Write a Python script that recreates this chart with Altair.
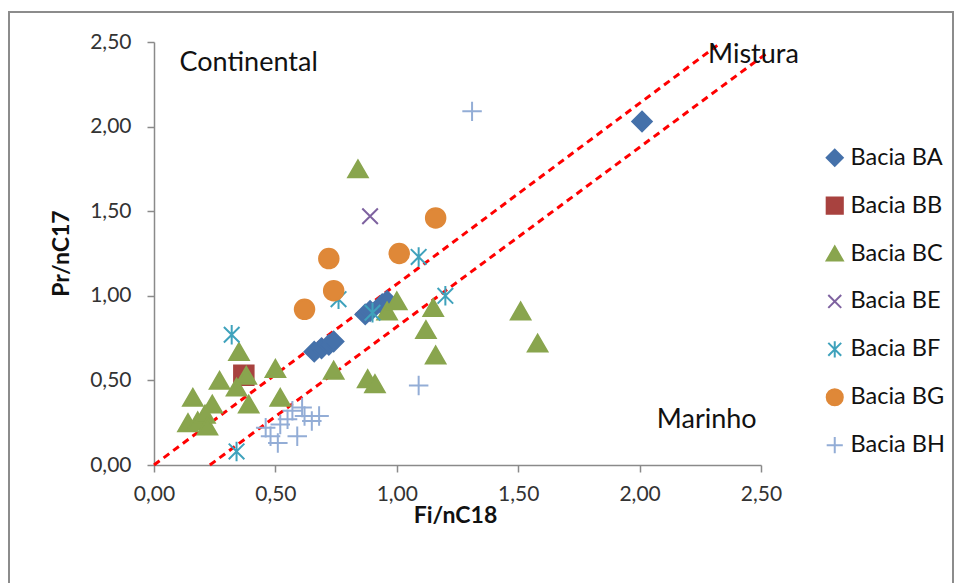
import altair as alt
import pandas as pd

# ---------------- data ----------------
series_names = ["Bacia BA", "Bacia BB", "Bacia BC", "Bacia BE", "Bacia BF", "Bacia BG", "Bacia BH"]
series_colors = ["#4571AA", "#A8423F", "#89A54E", "#7E62A0", "#3FA2BC", "#DF8838", "#93ADD6"]

ba_x = [0.66, 0.69, 0.72, 0.74, 0.87, 0.89, 0.94, 0.96, 2.01]
ba_y = [0.67, 0.69, 0.71, 0.73, 0.89, 0.91, 0.95, 0.97, 2.03]

bb_x = [0.37]
bb_y = [0.53]

bc_x = [0.14, 0.16, 0.18, 0.21, 0.22, 0.24, 0.27, 0.34, 0.35, 0.38, 0.39, 0.50, 0.52,
        0.74, 0.84, 0.88, 0.91, 0.96, 1.00, 1.12, 1.15, 1.16, 1.51, 1.58]
bc_y = [0.25, 0.40, 0.26, 0.30, 0.23, 0.36, 0.50, 0.46, 0.67, 0.53, 0.36, 0.57, 0.40,
        0.56, 1.75, 0.51, 0.48, 0.91, 0.97, 0.80, 0.93, 0.65, 0.91, 0.72]

be_x = [0.89]
be_y = [1.47]

bf_x = [0.32, 0.34, 0.76, 0.90, 1.09, 1.20]
bf_y = [0.77, 0.08, 0.98, 0.90, 1.23, 1.00]

bg_x = [0.62, 0.72, 0.74, 1.01, 1.16]
bg_y = [0.92, 1.22, 1.03, 1.25, 1.46]

bh_x = [0.46, 0.48, 0.51, 0.52, 0.55, 0.57, 0.59, 0.61, 0.62, 0.65, 0.68, 1.09, 1.31]
bh_y = [0.22, 0.17, 0.13, 0.24, 0.27, 0.32, 0.17, 0.34, 0.29, 0.26, 0.29, 0.47, 2.09]

# boundary lines (Continental / Mistura / Marinho)
line_names = ["upper", "upper", "lower", "lower"]
line_x = [0.0, 2.32, 0.23, 2.53]
line_y = [0.0, 2.48, 0.0, 2.44]

# region labels
label_text = ["Continental", "Mistura", "Marinho"]
label_x = [0.105, 2.282, 2.071]
label_y = [2.376, 2.423, 0.266]

tick_values = [0.0, 0.5, 1.0, 1.5, 2.0, 2.5]

# ---------------- build tables ----------------
all_x = [ba_x, bb_x, bc_x, be_x, bf_x, bg_x, bh_x]
all_y = [ba_y, bb_y, bc_y, be_y, bf_y, bg_y, bh_y]
rows = []
for name, xs, ys in zip(series_names, all_x, all_y):
    for xv, yv in zip(xs, ys):
        rows.append({"serie": name, "x": xv, "y": yv})
points = pd.DataFrame(rows)

lines = pd.DataFrame({"line": line_names, "x": line_x, "y": line_y})
labels = pd.DataFrame({"text": label_text, "x": label_x, "y": label_y})

FONT = "Lato"
X_CROSS = "M-0.8,-0.8L0.8,0.8M-0.8,0.8L0.8,-0.8"
ASTER = "M-0.8,-0.8L0.8,0.8M-0.8,0.8L0.8,-0.8M0,-1L0,1"
PLUS = "M-1,0L1,0M0,-1L0,1"
shapes = ["diamond", "square", "triangle-up", X_CROSS, ASTER, "circle", PLUS]

fmt = "replace(format(datum.value, '.2f'), '.', ',')"

x_scale = alt.Scale(domain=[0, 2.5], nice=False, zero=False)
y_scale = alt.Scale(domain=[0, 2.5], nice=False, zero=False)

x_axis = alt.Axis(values=tick_values, labelExpr=fmt, title="Fi/nC18", labelFlush=False,
                  titleX=301, titleY=50, titleAnchor="start", titleAlign="center",
                  titleBaseline="middle", labelPadding=11)
y_axis = alt.Axis(values=tick_values, labelExpr=fmt, title="Pr/nC17", labelFlush=False,
                  titleX=-93, titleY=211, titleAlign="center", titleBaseline="middle",
                  titleAngle=-90, labelPadding=16)

border = alt.Chart(pd.DataFrame({"k": [0]})).mark_rect(
    fill=None, stroke="#8c8c8c", strokeWidth=2
).encode(
    x=alt.value(-145), x2=alt.value(799), y=alt.value(-30), y2=alt.value(560)
)

dash = alt.Chart(lines).mark_line(
    color="#FF0000", strokeDash=[7, 5], strokeWidth=3, clip=False
).encode(
    x=alt.X("x:Q", scale=x_scale, axis=x_axis),
    y=alt.Y("y:Q", scale=y_scale, axis=y_axis),
    detail="line:N",
)

pts = alt.Chart(points).mark_point(size=380, strokeWidth=2, opacity=1).encode(
    x=alt.X("x:Q", scale=x_scale),
    y=alt.Y("y:Q", scale=y_scale),
    fill=alt.Fill("serie:N", scale=alt.Scale(domain=series_names, range=series_colors),
                  legend=alt.Legend(title=None)),
    stroke=alt.Stroke("serie:N", scale=alt.Scale(domain=series_names, range=series_colors),
                      legend=alt.Legend(title=None)),
    shape=alt.Shape("serie:N", scale=alt.Scale(domain=series_names, range=shapes),
                    legend=alt.Legend(title=None)),
    order=alt.Order("serie:N"),
)

txt = alt.Chart(labels).mark_text(
    align="left", baseline="middle", font=FONT, fontSize=27, color="#111111"
).encode(
    x=alt.X("x:Q", scale=x_scale),
    y=alt.Y("y:Q", scale=y_scale),
    text="text:N",
)

chart = alt.layer(border, dash, pts, txt).properties(
    width=607, height=423,
    autosize=alt.AutoSizeParams(type="none"),
    padding={"left": 154, "top": 42, "right": 196, "bottom": 118},
    background="white",
).configure_view(stroke=None).configure_axis(
    grid=False,
    domainColor="#8a8a8a", domainWidth=1.5,
    tickColor="#8a8a8a", tickWidth=1.5, tickSize=7,
    labelFont=FONT, labelFontSize=21, labelColor="#333333",
    titleFont=FONT, titleFontSize=23, titleFontWeight="bold", titleColor="#111111",
).configure_legend(
    orient="none", legendX=669, legendY=104,
    labelFont=FONT, labelFontSize=23.5, labelColor="#111111",
    symbolSize=260, symbolStrokeWidth=2, rowPadding=22.9, padding=0,
    labelOffset=4,
)

chart.save("out.html", embed_options={"renderer": "svg", "actions": False})
